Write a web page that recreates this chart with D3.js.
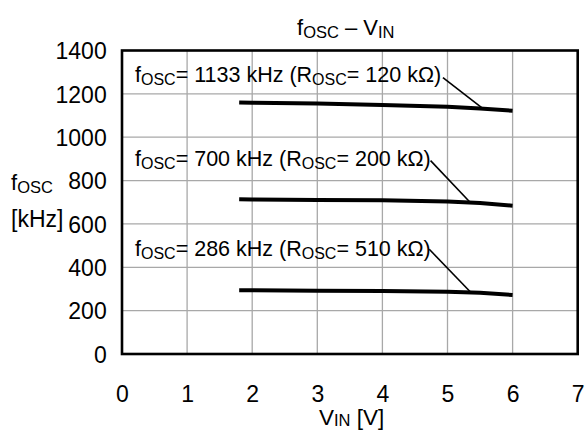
<!DOCTYPE html>
<html>
<head>
<meta charset="utf-8">
<script src="https://cdn.jsdelivr.net/npm/d3@7"></script>
<style>
  body { margin: 0; background: #fff; }
  text { font-family: "Liberation Sans", Arial, sans-serif; fill: #000; }
</style>
</head>
<body>
<svg id="chart" width="585" height="430"></svg>
<script>
// ---- data ----
const vin = [1.8, 2, 3, 4, 5, 5.5, 6];
const fosc1133 = [1160, 1159, 1155, 1149, 1141, 1132, 1122];
const fosc700 = [714, 713, 710, 709, 704, 697, 684];
const fosc286 = [294, 294, 292, 291, 287, 282, 272];
const seriesNames = ["1133", "700", "286"];
const rosc = ["120", "200", "510"];
const xTicks = [0, 1, 2, 3, 4, 5, 6, 7];
const yTicks = [0, 200, 400, 600, 800, 1000, 1200, 1400];

// ---- layout ----
const W = 585, H = 430;
const m = { left: 122, right: 7.3, top: 50.5, bottom: 76 };
const svg = d3.select("#chart");
const x = d3.scaleLinear().domain([0, 7]).range([m.left, W - m.right]);
const y = d3.scaleLinear().domain([0, 1400]).range([H - m.bottom, m.top]);

// grid
svg.append("g").selectAll("line").data(xTicks.slice(1, -1)).join("line")
  .attr("x1", d => x(d)).attr("x2", d => x(d))
  .attr("y1", y(0)).attr("y2", y(1400))
  .attr("stroke", "#a8a8a8").attr("stroke-width", 1.3);
svg.append("g").selectAll("line").data(yTicks.slice(1, -1)).join("line")
  .attr("x1", x(0)).attr("x2", x(7))
  .attr("y1", d => y(d)).attr("y2", d => y(d))
  .attr("stroke", "#a8a8a8").attr("stroke-width", 1.3);

// frame
svg.append("rect")
  .attr("x", x(0)).attr("y", y(1400))
  .attr("width", x(7) - x(0)).attr("height", y(0) - y(1400))
  .attr("fill", "none").attr("stroke", "#000").attr("stroke-width", 2.6);

// axes (labels only)
const xAxis = svg.append("g").attr("transform", `translate(0,${y(0)})`)
  .call(d3.axisBottom(x).tickValues(xTicks).tickFormat(d3.format("d")).tickSize(0).tickPadding(0));
xAxis.select(".domain").remove();
xAxis.selectAll("text").attr("font-size", 23).attr("dy", null).attr("y", 47.5)
  .style("font-family", '"Liberation Sans", Arial, sans-serif');

const yAxis = svg.append("g").attr("transform", `translate(${x(0)},0)`)
  .call(d3.axisLeft(y).tickValues(yTicks).tickFormat(d3.format("d")).tickSize(0).tickPadding(15.3));
yAxis.select(".domain").remove();
yAxis.selectAll("text").attr("font-size", 23).attr("dy", "0.36em")
  .style("font-family", '"Liberation Sans", Arial, sans-serif');

// data lines
const line = d3.line().x((d, i) => x(vin[i])).y(d => y(d));
[fosc1133, fosc700, fosc286].forEach(s => {
  svg.append("path").datum(s).attr("d", line)
    .attr("fill", "none").attr("stroke", "#000").attr("stroke-width", 4)
    .attr("stroke-linejoin", "round");
});

// annotations
const ann = [
  { lx: 0.2, ly: 1256, sx: 4.93, sy: 1275, ex: 5.55, series: fosc1133 },
  { lx: 0.2, ly: 867, sx: 4.74, sy: 892, ex: 5.35, series: fosc700 },
  { lx: 0.2, ly: 454, sx: 4.72, sy: 483, ex: 5.36, series: fosc286 }
];
function seriesAt(s, xv) {
  for (let i = 0; i < vin.length - 1; i++) {
    if (xv >= vin[i] && xv <= vin[i + 1]) {
      const t = (xv - vin[i]) / (vin[i + 1] - vin[i]);
      return s[i] + t * (s[i + 1] - s[i]);
    }
  }
  return s[s.length - 1];
}
ann.forEach((a, k) => {
  const t = svg.append("text").attr("x", x(a.lx)).attr("y", y(a.ly)).attr("font-size", 21.5);
  t.append("tspan").text("f");
  t.append("tspan").attr("font-size", 16).attr("dy", 3).text("OSC");
  t.append("tspan").attr("dy", -3).text("= " + seriesNames[k] + " kHz (R");
  t.append("tspan").attr("font-size", 16).attr("dy", 3).text("OSC");
  t.append("tspan").attr("dy", -3).text("= " + rosc[k] + " kΩ)");
  svg.append("line")
    .attr("x1", x(a.sx)).attr("y1", y(a.sy))
    .attr("x2", x(a.ex)).attr("y2", y(seriesAt(a.series, a.ex)))
    .attr("stroke", "#000").attr("stroke-width", 1.6);
});

// title
const title = svg.append("text").attr("x", 297).attr("y", 35).attr("font-size", 22);
title.append("tspan").text("f");
title.append("tspan").attr("font-size", 16.5).attr("dy", 3).text("OSC");
title.append("tspan").attr("dy", -3).text(" – V");
title.append("tspan").attr("font-size", 16.5).attr("dy", 3).text("IN");

// y label
const yl = svg.append("text").attr("x", 11).attr("y", 189.5).attr("font-size", 22);
yl.append("tspan").text("f");
yl.append("tspan").attr("font-size", 16.5).attr("dy", 3.5).text("OSC");
svg.append("text").attr("x", 11).attr("y", 227).attr("font-size", 23).text("[kHz]");

// x label
const xl = svg.append("text").attr("x", 319).attr("y", 425).attr("font-size", 22.5);
xl.append("tspan").text("V");
xl.append("tspan").attr("font-size", 16.5).attr("dy", 1).text("IN");
xl.append("tspan").attr("dy", -1).text(" [V]");
</script>
</body>
</html>
